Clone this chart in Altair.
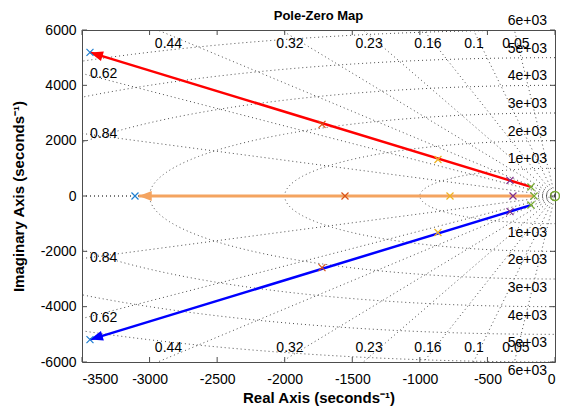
import altair as alt
import numpy as np
import pandas as pd

W, H = 473, 332
XMIN, XMAX = -3500, 0
YMIN, YMAX = -6000, 6000
FONT = "Liberation Sans"
GRID_C = "#4d4d4d"
FRAME_C = "#4d4d4d"

# ---- grid definitions (sgrid) ----
zeta_values = [0.05, 0.1, 0.16, 0.23, 0.32, 0.44, 0.62, 0.84, 1.0]
wn_values = [1000, 2000, 3000, 4000, 5000, 6000]
wn_small = [25, 45, 65]

# zeta labels along the top/bottom edge
zeta_top_text = ["0.44", "0.32", "0.23", "0.16", "0.1", "0.05"]
zeta_top_re = [-2860, -1961, -1376, -940, -599, -289]
zeta_top_im = 5500
# zeta labels along the left edge
zeta_side_text = ["0.62", "0.84"]
zeta_side_im = [4400, 2230]
zeta_side_re = -3440

wn_label_text = ["1e+03", "2e+03", "3e+03", "4e+03", "5e+03", "6e+03"]

# ---- poles ----
pole_re = [-3441, -3108, -3441, -1724, -1554, -1724, -866, -777, -866,
           -333, -311, -333, -178, -155, -178]
pole_im = [5190, 0, -5190, 2590, 0, -2590, 1320, 0, -1320,
           565, 0, -565, 325, 0, -325]
pole_color = (["#1f7fd0"] * 3 + ["#D95319"] * 3 + ["#EDB120"] * 3
              + ["#7E2F8E"] * 3 + ["#77AC30"] * 3)
zero_re = [0]
zero_im = [0]

# ---- trajectories (arrows) ----
branch = ["upper", "real", "lower"]
branch_start_re = [-178, -155, -178]
branch_start_im = [330, 0, -330]
branch_end_re = [-3441, -3080, -3441]
branch_end_im = [5190, 0, -5190]
branch_color = ["#FF0000", "#F4A460", "#0000FF"]
branch_width = [2.5, 3, 2.5]

x_ticks = [-3500, -3000, -2500, -2000, -1500, -1000, -500, 0]
y_ticks = [-6000, -4000, -2000, 0, 2000, 4000, 6000]

title_text = ["Pole-Zero Map"]

# ---------------- build tables ----------------
sx = W / (XMAX - XMIN)
sy = H / (YMAX - YMIN)

R = 20000
rays = []
k = 0
for z in zeta_values:
    for s in (1, -1):
        rays.append(dict(id=k, o=0, re=0.0, im=0.0))
        rays.append(dict(id=k, o=1, re=-R * z, im=s * R * np.sqrt(1 - z * z)))
        k += 1
rays = pd.DataFrame(rays)

circ = []
th = np.linspace(np.pi / 2, 3 * np.pi / 2, 241)
for i, w in enumerate(wn_values + wn_small):
    for j, t in enumerate(th):
        circ.append(dict(id=i, o=j, re=w * np.cos(t), im=w * np.sin(t)))
circ = pd.DataFrame(circ)

poles = pd.DataFrame(dict(re=pole_re, im=pole_im, c=pole_color))
zeros = pd.DataFrame(dict(re=zero_re, im=zero_im))

traj = []
heads = []
for b, r0, i0, r1, i1, c, w in zip(branch, branch_start_re, branch_start_im,
                                   branch_end_re, branch_end_im, branch_color, branch_width):
    traj.append(dict(b=b, o=0, re=r0, im=i0, c=c, w=w))
    traj.append(dict(b=b, o=1, re=r1, im=i1, c=c, w=w))
    dxp = (r1 - r0) * sx
    dyp = -(i1 - i0) * sy
    ang = np.degrees(np.arctan2(dxp, -dyp)) % 360
    heads.append(dict(b=b, re=r1, im=i1, c=c, angle=ang))
traj = pd.DataFrame(traj)
heads = pd.DataFrame(heads)

ztop = pd.DataFrame(dict(t=zeta_top_text * 2,
                         re=zeta_top_re * 2,
                         im=[zeta_top_im] * 6 + [-zeta_top_im] * 6))
zside = pd.DataFrame(dict(t=zeta_side_text * 2,
                          re=[zeta_side_re] * 4,
                          im=zeta_side_im + [-v for v in zeta_side_im]))
wn_up = pd.DataFrame(dict(t=wn_label_text, re=[0] * 6, im=wn_values))
wn_dn = pd.DataFrame(dict(t=wn_label_text, re=[0] * 6, im=[-v for v in wn_values]))

xt = pd.DataFrame(dict(re=x_ticks))
yt = pd.DataFrame(dict(im=y_ticks))

xscale = alt.Scale(domain=[XMIN, XMAX], nice=False, zero=False)
yscale = alt.Scale(domain=[YMIN, YMAX], nice=False, zero=False)
xaxis = alt.Axis(values=x_ticks, title="Real Axis (seconds⁻¹)",
                 labelExpr="'' + datum.value", labelPadding=10, titlePadding=4)
yaxis = alt.Axis(values=y_ticks, title="Imaginary Axis (seconds⁻¹)",
                 labelExpr="'' + datum.value", labelPadding=6, titlePadding=14)
X = alt.X("re:Q", scale=xscale, axis=xaxis)
Y = alt.Y("im:Q", scale=yscale, axis=yaxis)

dot = dict(color=GRID_C, strokeWidth=1, strokeDash=[1, 3], clip=True)
l_rays = alt.Chart(rays).mark_line(**dot).encode(x=X, y=Y, detail="id:N", order="o:Q")
l_circ = alt.Chart(circ).mark_line(**dot).encode(x=X, y=Y, detail="id:N", order="o:Q")

l_traj = alt.Chart(traj).mark_line().encode(
    x=X, y=Y, detail="b:N", order="o:Q",
    color=alt.Color("c:N", scale=None),
    strokeWidth=alt.StrokeWidth("w:Q", scale=None))

head_shape = "M0,0L-1,2.6L1,2.6Z"
l_heads = alt.Chart(heads).mark_point(shape=head_shape, filled=True, size=100,
                                       opacity=1, strokeWidth=0).encode(
    x=X, y=Y, color=alt.Color("c:N", scale=None),
    angle=alt.Angle("angle:Q", scale=None))

l_poles = alt.Chart(poles).mark_point(shape="M-1,-1L1,1M-1,1L1,-1", filled=False,
                                       size=49, strokeWidth=1.2, opacity=1).encode(
    x=X, y=Y, color=alt.Color("c:N", scale=None))

l_zero = alt.Chart(zeros).mark_point(shape="circle", filled=False, size=80,
                                      strokeWidth=1.5, opacity=1, color="#77AC30").encode(x=X, y=Y)

txt = dict(font=FONT, fontSize=14, color="black")
l_ztop = alt.Chart(ztop).mark_text(align="center", baseline="middle", **txt).encode(
    x=X, y=Y, text="t:N")
l_zside = alt.Chart(zside).mark_text(align="left", baseline="middle", **txt).encode(
    x=X, y=Y, text="t:N")
l_wnup = alt.Chart(wn_up).mark_text(align="right", baseline="middle", dx=-8, dy=-9, **txt).encode(
    x=X, y=Y, text="t:N")
l_wndn = alt.Chart(wn_dn).mark_text(align="right", baseline="middle", dx=-8, dy=9, **txt).encode(
    x=X, y=Y, text="t:N")

l_title = alt.Chart(pd.DataFrame(dict(t=title_text))).mark_text(
    font=FONT, fontSize=13, fontWeight="bold", color="black",
    align="center", baseline="middle").encode(
    x=alt.value(W / 2), y=alt.value(-14), text="t:N")

tk = dict(color=FRAME_C, strokeWidth=1)
l_xt_b = alt.Chart(xt).mark_rule(**tk).encode(x=X, y=alt.value(H), y2=alt.value(H - 5))
l_xt_t = alt.Chart(xt).mark_rule(**tk).encode(x=X, y=alt.value(0), y2=alt.value(5))
l_yt_l = alt.Chart(yt).mark_rule(**tk).encode(y=Y, x=alt.value(0), x2=alt.value(5))
l_yt_r = alt.Chart(yt).mark_rule(**tk).encode(y=Y, x=alt.value(W), x2=alt.value(W - 5))

chart = alt.layer(
    l_rays, l_circ, l_traj, l_heads, l_poles, l_zero,
    l_ztop, l_zside, l_wnup, l_wndn, l_title, l_xt_b, l_xt_t, l_yt_l, l_yt_r
).properties(
    width=W, height=H,
    autosize=alt.AutoSizeParams(type="none"),
    padding={"left": 74, "top": 22, "right": 5, "bottom": 48},
).configure_view(
    stroke=FRAME_C, strokeWidth=1
).configure_axis(
    domain=False, ticks=False, grid=False,
    labelFont=FONT, labelFontSize=14, labelColor="black",
    titleFont=FONT, titleFontSize=15, titleFontWeight="bold", titleColor="black",
)

chart.save("out.html", embed_options={"renderer": "svg", "actions": False})
